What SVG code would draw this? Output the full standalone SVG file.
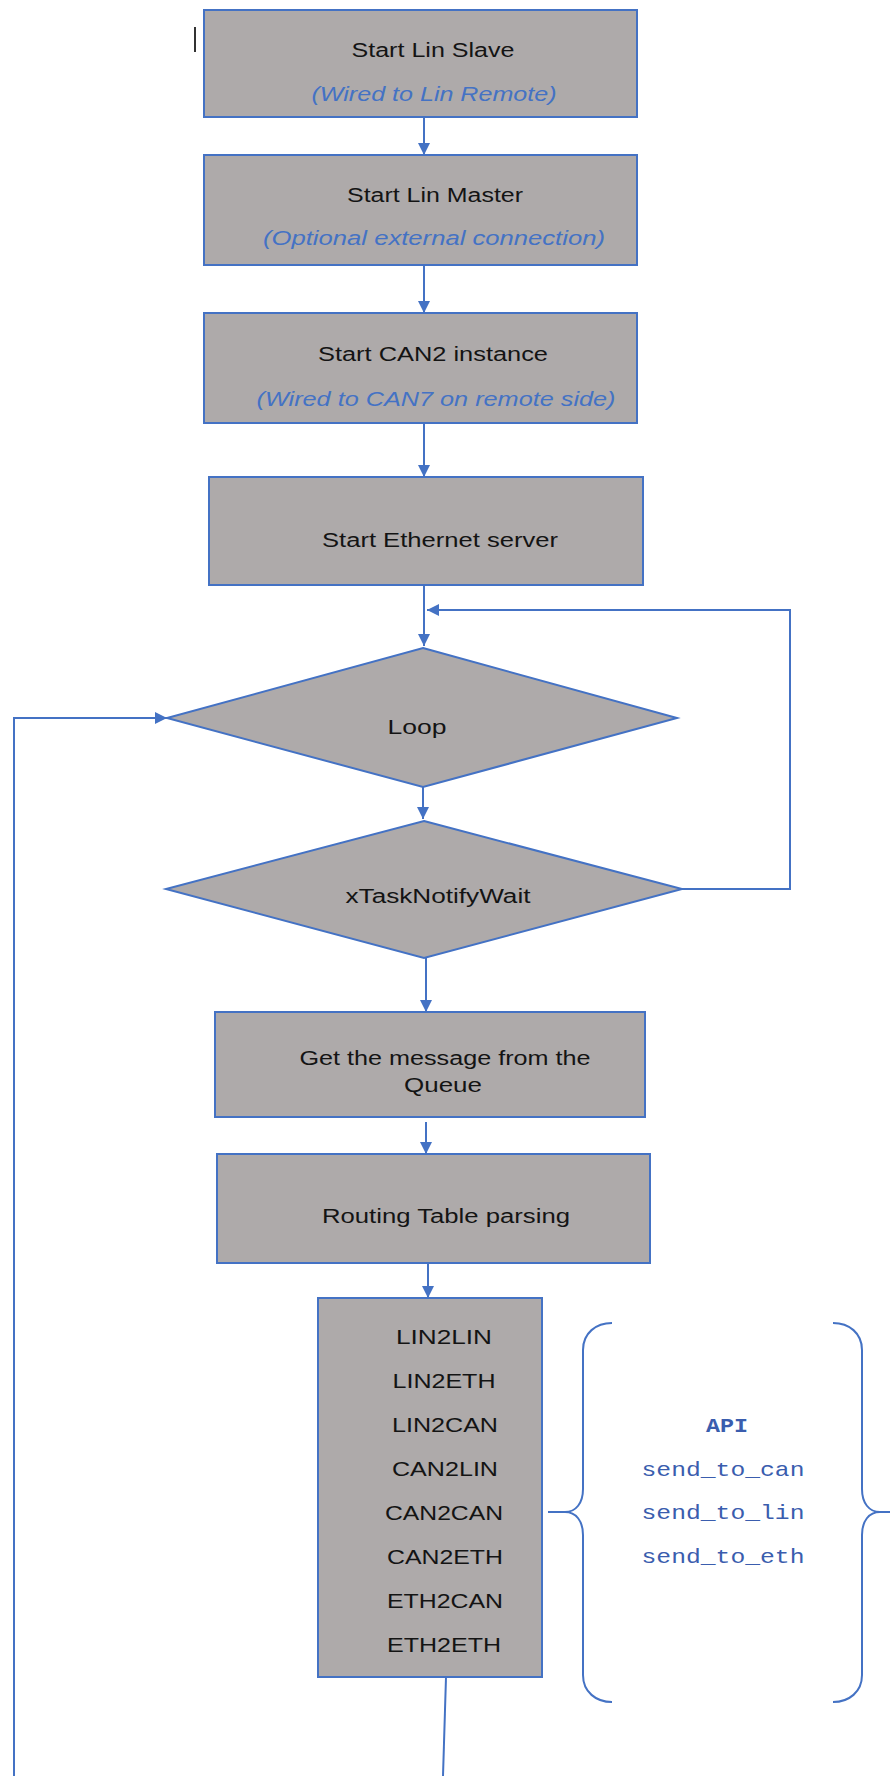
<svg xmlns="http://www.w3.org/2000/svg" width="890" height="1776" viewBox="0 0 890 1776">
  <style>
    .box { fill: #AEAAAA; stroke: #4472C4; stroke-width: 2; }
    .conn { fill: none; stroke: #4472C4; stroke-width: 2; }
    .brace { fill: none; stroke: #4472C4; stroke-width: 2; }
    .t { font-family: "Liberation Sans", Arial, sans-serif; font-size: 20px; fill: #141414; text-anchor: middle; }
    .i { font-family: "Liberation Sans", Arial, sans-serif; font-size: 20px; font-style: italic; fill: #4472C4; text-anchor: middle; }
    .m { font-family: "Liberation Mono", "Courier New", monospace; font-size: 21px; fill: #3A5DAE; text-anchor: middle; }
    .mb { font-weight: bold; }
  </style>
  <defs>
    <marker id="arrow" viewBox="0 0 12 12" refX="12" refY="6" markerWidth="12" markerHeight="12" markerUnits="userSpaceOnUse" orient="auto">
      <path d="M0,0 L12,6 L0,12 z" fill="#4472C4"/>
    </marker>
  </defs>
  <rect width="890" height="1776" fill="#ffffff"/>

  <!-- text cursor mark -->
  <line x1="195" y1="27" x2="195" y2="52" stroke="#333" stroke-width="2"/>

  <!-- connectors -->
  <g id="connectors">
    <path class="conn" d="M424 117 V155" marker-end="url(#arrow)"/>
    <path class="conn" d="M424 265 V313" marker-end="url(#arrow)"/>
    <path class="conn" d="M424 423 V477" marker-end="url(#arrow)"/>
    <path class="conn" d="M424 585 V646" marker-end="url(#arrow)"/>
    <path class="conn" d="M423 787 V819" marker-end="url(#arrow)"/>
    <path class="conn" d="M426 958 V1012" marker-end="url(#arrow)"/>
    <path class="conn" d="M426 1122 V1154" marker-end="url(#arrow)"/>
    <path class="conn" d="M428 1263 V1298" marker-end="url(#arrow)"/>
    <path class="conn" d="M682 889 H790 V610 H427" marker-end="url(#arrow)"/>
    <path class="conn" d="M14 1776 V718 H167" marker-end="url(#arrow)"/>
    <path class="conn" d="M548 1512 H565"/>
    <path class="conn" d="M880 1512 H892"/>
    <path class="conn" d="M446 1677 L443 1776"/>
  </g>

  <g id="start-lin-slave">
    <rect class="box" x="204" y="10" width="433" height="107"/>
    <text class="t" x="433" y="57" textLength="163" lengthAdjust="spacingAndGlyphs">Start Lin Slave</text>
    <text class="i" x="434" y="101" textLength="245" lengthAdjust="spacingAndGlyphs">(Wired to Lin Remote)</text>
  </g>

  <g id="start-lin-master">
    <rect class="box" x="204" y="155" width="433" height="110"/>
    <text class="t" x="435" y="202" textLength="176" lengthAdjust="spacingAndGlyphs">Start Lin Master</text>
    <text class="i" x="434" y="245" textLength="342" lengthAdjust="spacingAndGlyphs">(Optional external connection)</text>
  </g>

  <g id="start-can2">
    <rect class="box" x="204" y="313" width="433" height="110"/>
    <text class="t" x="433" y="361" textLength="230" lengthAdjust="spacingAndGlyphs">Start CAN2 instance</text>
    <text class="i" x="436" y="406" textLength="359" lengthAdjust="spacingAndGlyphs">(Wired to CAN7 on remote side)</text>
  </g>

  <g id="start-ethernet">
    <rect class="box" x="209" y="477" width="434" height="108"/>
    <text class="t" x="440" y="547" textLength="236" lengthAdjust="spacingAndGlyphs">Start Ethernet server</text>
  </g>

  <g id="loop">
    <polygon class="box" points="423,648 677,718 423,787 167,718"/>
    <text class="t" x="417" y="734" textLength="59" lengthAdjust="spacingAndGlyphs">Loop</text>
  </g>

  <g id="notify-wait">
    <polygon class="box" points="424,821 682,889 424,958 166,889"/>
    <text class="t" x="438" y="903" textLength="185" lengthAdjust="spacingAndGlyphs">xTaskNotifyWait</text>
  </g>

  <g id="get-message">
    <rect class="box" x="215" y="1012" width="430" height="105"/>
    <text class="t" x="445" y="1065" textLength="291" lengthAdjust="spacingAndGlyphs">Get the message from the</text>
    <text class="t" x="443" y="1092" textLength="78" lengthAdjust="spacingAndGlyphs">Queue</text>
  </g>

  <g id="routing-table">
    <rect class="box" x="217" y="1154" width="433" height="109"/>
    <text class="t" x="446" y="1223" textLength="248" lengthAdjust="spacingAndGlyphs">Routing Table parsing</text>
  </g>

  <g id="routes">
    <rect class="box" x="318" y="1298" width="224" height="379"/>
    <text class="t" x="444" y="1344" textLength="96" lengthAdjust="spacingAndGlyphs">LIN2LIN</text>
    <text class="t" x="444" y="1388" textLength="103" lengthAdjust="spacingAndGlyphs">LIN2ETH</text>
    <text class="t" x="445" y="1432" textLength="106" lengthAdjust="spacingAndGlyphs">LIN2CAN</text>
    <text class="t" x="445" y="1476" textLength="106" lengthAdjust="spacingAndGlyphs">CAN2LIN</text>
    <text class="t" x="444" y="1520" textLength="118" lengthAdjust="spacingAndGlyphs">CAN2CAN</text>
    <text class="t" x="445" y="1564" textLength="116" lengthAdjust="spacingAndGlyphs">CAN2ETH</text>
    <text class="t" x="445" y="1608" textLength="116" lengthAdjust="spacingAndGlyphs">ETH2CAN</text>
    <text class="t" x="444" y="1652" textLength="114" lengthAdjust="spacingAndGlyphs">ETH2ETH</text>
  </g>

  <g id="api">
    <path class="brace" d="M612 1323 C596 1323 583 1333 583 1350 L583 1489 C583 1503 576 1512 565 1512 C576 1512 583 1521 583 1535 L583 1675 C583 1692 596 1702 612 1702"/>
    <path class="brace" d="M833 1323 C849 1323 862 1333 862 1350 L862 1489 C862 1503 869 1512 880 1512 C869 1512 862 1521 862 1535 L862 1675 C862 1692 849 1702 833 1702"/>
    <text class="m mb" x="727" y="1432" textLength="42" lengthAdjust="spacingAndGlyphs">API</text>
    <text class="m" x="723" y="1476" textLength="163" lengthAdjust="spacingAndGlyphs">send_to_can</text>
    <text class="m" x="723" y="1519" textLength="163" lengthAdjust="spacingAndGlyphs">send_to_lin</text>
    <text class="m" x="723" y="1563" textLength="163" lengthAdjust="spacingAndGlyphs">send_to_eth</text>
  </g>
</svg>
